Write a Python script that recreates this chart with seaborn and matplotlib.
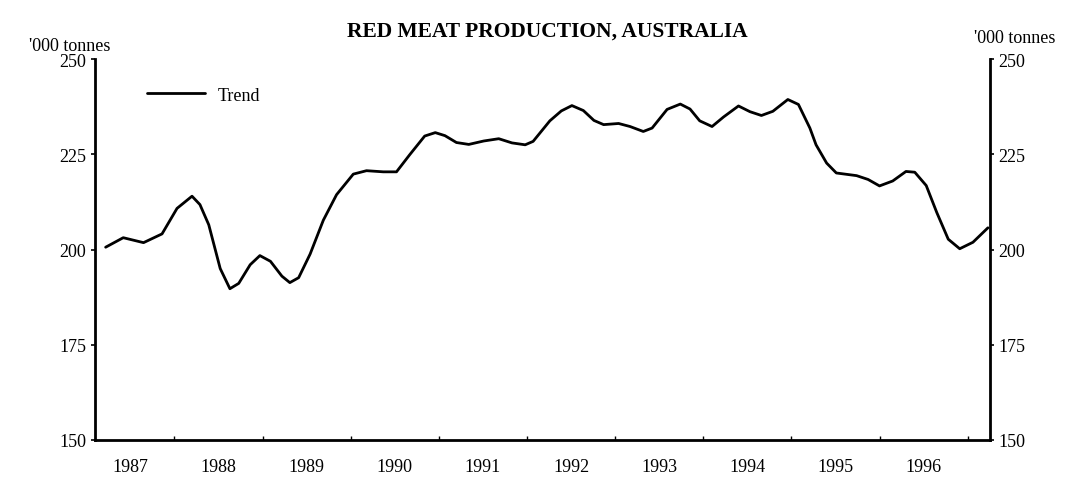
import numpy as np
import pandas as pd
import seaborn as sns
from matplotlib import pyplot as plt

# trend readings (decimal year, '000 tonnes)
year = [1987.22, 1987.42, 1987.65, 1987.86, 1988.03, 1988.20, 1988.29, 1988.39,
        1988.52, 1988.63, 1988.73, 1988.86, 1988.97, 1989.09, 1989.22, 1989.31,
        1989.41, 1989.54, 1989.69, 1989.84, 1990.03, 1990.18, 1990.37, 1990.52,
        1990.67, 1990.84, 1990.96, 1991.07, 1991.20, 1991.34, 1991.51, 1991.68,
        1991.83, 1991.98, 1992.07, 1992.26, 1992.39, 1992.51, 1992.64, 1992.76,
        1992.87, 1993.04, 1993.17, 1993.32, 1993.42, 1993.59, 1993.74, 1993.85,
        1993.96, 1994.10, 1994.23, 1994.40, 1994.53, 1994.66, 1994.79, 1994.96,
        1995.08, 1995.21, 1995.28, 1995.40, 1995.51, 1995.74, 1995.87, 1996.00,
        1996.15, 1996.30, 1996.40, 1996.53, 1996.65, 1996.78, 1996.91, 1997.06,
        1997.23]
trend = [200.6, 203.1, 201.8, 204.1, 210.8, 214.0, 211.8, 206.5,
         195.0, 189.7, 191.1, 196.0, 198.4, 196.9, 193.0, 191.3,
         192.6, 198.8, 207.7, 214.4, 219.8, 220.7, 220.4, 220.4,
         224.9, 229.8, 230.7, 229.9, 228.1, 227.6, 228.5, 229.1,
         228.0, 227.5, 228.4, 233.8, 236.4, 237.8, 236.5, 233.9,
         232.8, 233.1, 232.3, 231.0, 231.9, 236.8, 238.2, 236.9,
         233.8, 232.3, 234.8, 237.7, 236.2, 235.2, 236.3, 239.4,
         238.1, 231.9, 227.5, 222.7, 220.1, 219.4, 218.4, 216.7,
         218.0, 220.5, 220.3, 216.8, 209.7, 202.7, 200.2, 201.9,
         205.7]
year_labels = ['1987', '1988', '1989', '1990', '1991', '1992', '1993', '1994', '1995', '1996']
y_ticks = [150, 175, 200, 225, 250]

sns.set_style('ticks', {'text.color': 'black', 'xtick.color': 'black',
                        'ytick.color': 'black', 'axes.labelcolor': 'black'})
plt.rcParams['font.family'] = ['Liberation Serif', 'DejaVu Serif']

df = pd.DataFrame({'year': year, 'Trend': trend})

fig = plt.figure(figsize=(10.74, 4.85), dpi=100)
ax = fig.add_axes([0.0885, 0.091, 0.833, 0.785])

sns.lineplot(data=df, x='year', y='Trend', color='black', linewidth=2,
             label='Trend', ax=ax)

ax.set_xlim(1987.1, 1997.25)
ax.set_ylim(150, 250)
ax.set_yticks(y_ticks)
ax.tick_params(axis='y', which='both', left=True, right=True, labelleft=True,
               labelright=True, labelsize=13, length=3, width=1.2, direction='out')

ax.set_xticks(range(1988, 1998))
ax.set_xticklabels([''] * 10)
ax.tick_params(axis='x', which='major', length=3, width=1, direction='in')
ax.set_xticks([1987.5 + i for i in range(len(year_labels))], minor=True)
ax.set_xticklabels(year_labels, minor=True)
ax.tick_params(axis='x', which='minor', length=0, labelsize=13, pad=13)

for side in ['left', 'right', 'bottom']:
    ax.spines[side].set_linewidth(2)
    ax.spines[side].set_color('black')
ax.spines['top'].set_visible(False)
ax.set_xlabel('')
ax.set_ylabel('')
ax.grid(False)

leg = ax.legend(loc='upper left', bbox_to_anchor=(0.04, 0.97), frameon=False,
                fontsize=13, handlelength=3.2, handletextpad=0.7)

fig.text(0.51, 0.935, 'RED MEAT PRODUCTION, AUSTRALIA', ha='center', va='center',
         fontsize=15.5, fontweight='bold', color='black')
fig.text(0.103, 0.905, "'000 tonnes", ha='right', va='center', fontsize=13, color='black')
fig.text(0.907, 0.92, "'000 tonnes", ha='left', va='center', fontsize=13, color='black')

fig.savefig('out.png', dpi=100)
